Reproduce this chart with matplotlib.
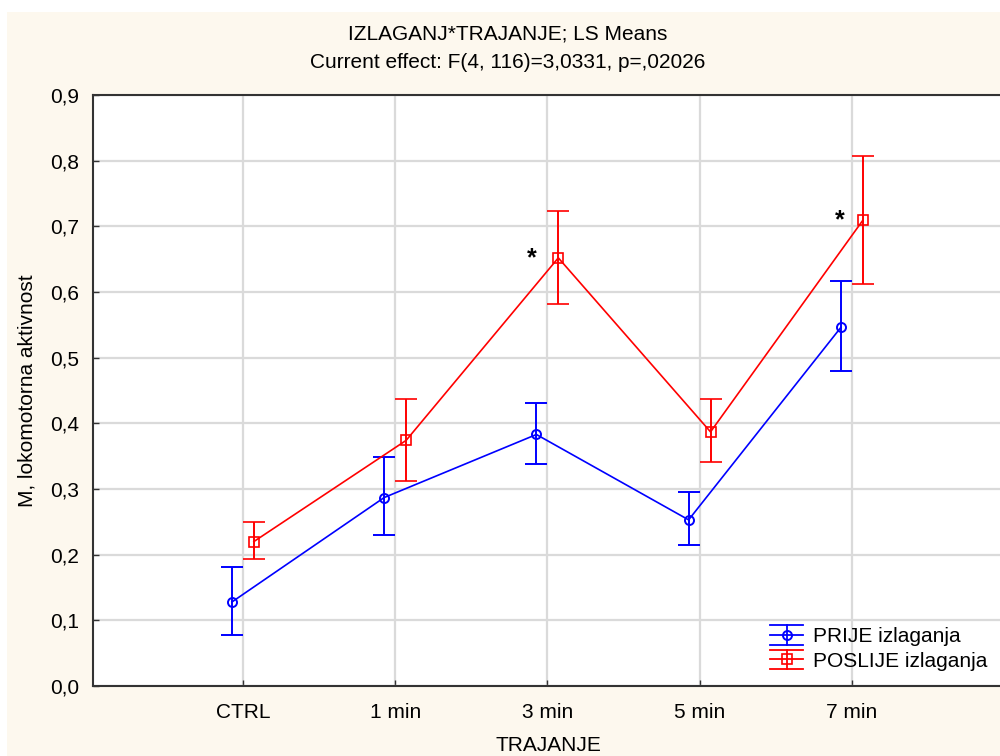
import matplotlib
matplotlib.use("Agg")
import matplotlib.pyplot as plt
from matplotlib.patches import Rectangle
from matplotlib.lines import Line2D
from matplotlib.legend_handler import HandlerBase
import numpy as np

categories = ["CTRL", "1 min", "3 min", "5 min", "7 min"]
prije_mean = [0.128, 0.287, 0.383, 0.253, 0.546]
prije_low = [0.077, 0.230, 0.338, 0.215, 0.480]
prije_high = [0.181, 0.349, 0.431, 0.295, 0.616]
poslije_mean = [0.220, 0.374, 0.652, 0.387, 0.709]
poslije_low = [0.193, 0.312, 0.582, 0.341, 0.612]
poslije_high = [0.249, 0.437, 0.723, 0.437, 0.807]
series_names = ["PRIJE izlaganja", "POSLIJE izlaganja"]
star_positions = [(1.9, 0.652), (3.92, 0.709)]
yticks = [0.0, 0.1, 0.2, 0.3, 0.4, 0.5, 0.6, 0.7, 0.8, 0.9]

plt.rcParams['font.family'] = ['Liberation Sans', 'DejaVu Sans']
FS = 15

fig = plt.figure(figsize=(10, 7.56), dpi=100)
fig.patch.set_facecolor('white')
fig.patches.append(Rectangle((7/1000, 0), 1, 1 - 12/756, transform=fig.transFigure,
                             facecolor='#FDF8EE', edgecolor='none', zorder=-10))

ax = fig.add_axes([93/1000, 1 - 686/756, (1004 - 93)/1000, (686 - 95)/756])
ax.set_facecolor('white')

x = np.arange(len(categories))
off = 0.072

pm = np.array(prije_mean)
err_p = [pm - np.array(prije_low), np.array(prije_high) - pm]
qm = np.array(poslije_mean)
err_q = [qm - np.array(poslije_low), np.array(poslije_high) - qm]

BLUE = '#0000FF'
RED = '#FF0000'
ax.errorbar(x - off, pm, yerr=err_p, color=BLUE, ecolor=BLUE, lw=1.2,
            elinewidth=1.4, capsize=8, capthick=1.4, marker='o', ms=6.5,
            mfc='none', mec=BLUE, mew=1.4, zorder=3)
ax.errorbar(x + off, qm, yerr=err_q, color=RED, ecolor=RED, lw=1.2,
            elinewidth=1.4, capsize=8, capthick=1.4, marker='s', ms=6.5,
            mfc='none', mec=RED, mew=1.2, zorder=3)

for sx, sy in star_positions:
    ax.text(sx, sy, "*", fontsize=18, fontweight='bold', ha='center', va='center',
            color='black', zorder=4)

ax.set_xlim(-0.985, 5.0)
ax.set_ylim(0, 0.9)
ax.set_xticks(x)
ax.set_xticklabels(categories, fontsize=FS)
ax.set_yticks(yticks)
ax.set_yticklabels([f"{v:.1f}".replace('.', ',') for v in yticks], fontsize=FS)
ax.tick_params(axis='both', direction='in', length=4, width=1, color='#333333')
ax.tick_params(axis='y', pad=10)
ax.tick_params(axis='x', pad=12)
ax.grid(True, color='#DADADA', lw=1.6)
ax.set_axisbelow(True)
for s in ['left', 'top', 'bottom']:
    ax.spines[s].set_color('#333333')
    ax.spines[s].set_linewidth(1.5)
ax.spines['right'].set_visible(False)

ax.set_xlabel("TRAJANJE", fontsize=FS, labelpad=10)
ax.set_ylabel("M, lokomotorna aktivnost", fontsize=FS, labelpad=10)

fig.text(0.508, 1 - 34/756, "IZLAGANJ*TRAJANJE; LS Means", ha='center', va='center',
         fontsize=FS)
fig.text(0.508, 1 - 63/756, "Current effect: F(4, 116)=3,0331, p=,02026", ha='center',
         va='center', fontsize=FS)


class ErrHandler(HandlerBase):
    def __init__(self, color, marker, mew):
        super().__init__()
        self.color = color
        self.marker = marker
        self.mew = mew

    def create_artists(self, legend, orig_handle, xdescent, ydescent, width, height,
                       fontsize, trans):
        cy = height / 2 - ydescent
        x0 = -xdescent
        x1 = x0 + width
        xm = (x0 + x1) / 2
        cap = 7.0
        arts = []
        for yy in (cy - cap, cy, cy + cap):
            arts.append(Line2D([x0, x1], [yy, yy], color=self.color, lw=1.3))
        arts.append(Line2D([xm, xm], [cy - cap, cy + cap], color=self.color, lw=1.3))
        arts.append(Line2D([xm], [cy], marker=self.marker, ms=6.5, mfc='none',
                           mec=self.color, mew=self.mew, lw=0))
        for a in arts:
            a.set_transform(trans)
        return arts


h1 = Line2D([], [], color=BLUE)
h2 = Line2D([], [], color=RED)
leg = ax.legend([h1, h2], series_names, loc='center left',
                bbox_to_anchor=((770 - 93)/911, (686 - 649)/591),
                frameon=False, fontsize=FS, handlelength=1.6, handletextpad=0.48,
                labelspacing=0.25, borderaxespad=0, borderpad=0,
                handler_map={h1: ErrHandler(BLUE, 'o', 1.4), h2: ErrHandler(RED, 's', 1.2)})

fig.savefig("out.png", dpi=100, facecolor=fig.get_facecolor())
